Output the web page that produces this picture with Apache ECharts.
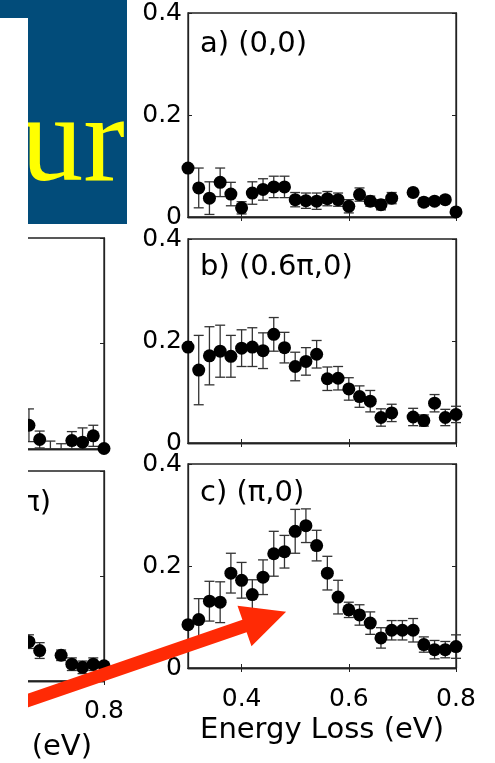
<!DOCTYPE html>
<html>
<head>
<meta charset="utf-8">
<script src="https://cdn.jsdelivr.net/npm/echarts@6/dist/echarts.min.js"></script>
<style>
  html, body { margin: 0; padding: 0; background: #ffffff; }
  #chart { width: 495px; height: 763px; }
</style>
</head>
<body>
<div id="chart"></div>
<script>
// Energy-loss grid (eV), shared by every panel
const energy = [0.30, 0.32, 0.34, 0.36, 0.38, 0.40, 0.42, 0.44, 0.46, 0.48,
                0.50, 0.52, 0.54, 0.56, 0.58, 0.60, 0.62, 0.64, 0.66, 0.68,
                0.70, 0.72, 0.74, 0.76, 0.78, 0.80];

// a) (0,0)
const intensityA = [0.096, 0.057, 0.037, 0.068, 0.045, 0.018, 0.047, 0.054, 0.059, 0.059,
                    0.034, 0.032, 0.031, 0.036, 0.034, 0.021, 0.044, 0.031, 0.024, 0.037,
                    null, 0.048, 0.029, 0.031, 0.034, 0.010];
const errorA = [0, 0.039, 0.032, 0.028, 0.023, 0.012, 0.022, 0.021, 0.021, 0.021,
                0.014, 0.015, 0.016, 0.014, 0.013, 0.013, 0.013, 0.010, 0.010, 0.011,
                null, 0.008, 0.008, 0.007, 0.007, 0];

// b) (0.6π,0)
const intensityB = [0.188, 0.143, 0.171, 0.180, 0.170, 0.186, 0.188, 0.181, 0.213, 0.187,
                    0.150, 0.160, 0.174, 0.126, 0.127, 0.106, 0.091, 0.082, 0.050, 0.059,
                    null, 0.051, 0.044, 0.078, 0.050, 0.056];
const errorB = [0, 0.068, 0.057, 0.051, 0.041, 0.036, 0.038, 0.035, 0.033, 0.030,
                0.028, 0.027, 0.027, 0.023, 0.023, 0.022, 0.021, 0.021, 0.017, 0.017,
                null, 0.017, 0.011, 0.017, 0.016, 0.016];

// c) (π,0)
const intensityC = [0.085, 0.095, 0.131, 0.129, 0.186, 0.172, 0.144, 0.178, 0.224, 0.228,
                    0.268, 0.279, 0.240, 0.186, 0.139, 0.114, 0.104, 0.088, 0.059, 0.074,
                    0.074, 0.074, 0.046, 0.036, 0.036, 0.042];
const errorC = [0, 0.041, 0.039, 0.040, 0.039, 0.035, 0.029, 0.034, 0.044, 0.032,
                0.043, 0.033, 0.030, 0.033, 0.033, 0.015, 0.020, 0.022, 0.020, 0.019,
                0.019, 0.023, 0.015, 0.018, 0.016, 0.023];

// left column panels (high-energy end)
const energyLeft = [0.66, 0.68, 0.70, 0.72, 0.74, 0.76, 0.78, 0.80];
const intensityL1 = [0.045, 0.018, -0.020, -0.020, 0.016, 0.013, 0.025, 0.001];
const errorL1 = [0.031, 0.016, 0.035, 0.030, 0.017, 0.027, 0.020, 0];
const intensityL2 = [0.075, 0.058, null, 0.049, 0.032, 0.026, 0.032, 0.029];
const errorL2 = [0.013, 0.015, null, 0.010, 0.012, 0.012, 0.012, 0];

const xTicks = [0.4, 0.6, 0.8];
const panelTitles = ['a) (0,0)', 'b) (0.6\u03c0,0)', 'c) (\u03c0,0)', 'e) (\u03c0,\u03c0)'];
const xAxisTitle = 'Energy Loss (eV)';

const FONT = 'DejaVu Sans';
const AXIS_COLOR = '#222222';

// panel boxes: [left, top, width, height]
const boxes = [
  [188, 13, 268, 204],   // a
  [188, 239, 268, 204],  // b
  [188, 464, 268, 204],  // c
  [-164, 238, 268, 211], // left middle
  [-164, 471, 268, 210]  // left bottom
];
// which panels carry x tick labels / y tick labels
const showX = [false, false, true, false, true];
const showY = [true, true, true, false, false];
const xLabelMargin = [19, 19, 19, 19, 18];
const nameGaps = [0, 0, 48, 0, 52];

const grids = [], xAxes = [], yAxes = [];
boxes.forEach((b, i) => {
  grids.push({
    left: b[0], top: b[1], width: b[2], height: b[3],
    show: true, borderColor: AXIS_COLOR, borderWidth: 1.3,
    backgroundColor: 'transparent',
    outerBoundsMode: 'none', containLabel: false
  });
  const base = {
    gridIndex: i, type: 'value', min: 0.3, max: 0.8,
    splitLine: { show: false },
    axisLine: { show: true, lineStyle: { color: AXIS_COLOR, width: 1.3 } },
    axisTick: { show: true, inside: true, length: 4, customValues: xTicks,
                lineStyle: { color: AXIS_COLOR, width: 1 } }
  };
  xAxes.push(Object.assign({}, base, {
    position: 'bottom',
    axisLabel: { show: showX[i], customValues: xTicks, margin: xLabelMargin[i],
                 color: '#000', fontFamily: FONT, fontSize: 25,
                 formatter: v => v.toFixed(1) },
    name: showX[i] ? xAxisTitle : '',
    nameLocation: 'middle', nameGap: nameGaps[i],
    nameTextStyle: { color: '#000', fontFamily: FONT, fontSize: 29 }
  }));
  xAxes.push(Object.assign({}, base, {
    position: 'top',
    axisLabel: { show: false }
  }));
  const ybase = {
    gridIndex: i, type: 'value', min: 0, max: 0.4, interval: 0.2,
    splitLine: { show: false },
    axisLine: { show: true, lineStyle: { color: AXIS_COLOR, width: 1.3 } },
    axisTick: { show: true, inside: true, length: 4,
                lineStyle: { color: AXIS_COLOR, width: 1 } }
  };
  yAxes.push(Object.assign({}, ybase, {
    position: 'left',
    axisLabel: { show: showY[i], margin: 6, color: '#000', fontFamily: FONT, fontSize: 25,
                 formatter: v => (v === 0 ? '0' : v.toFixed(1)) }
  }));
  yAxes.push(Object.assign({}, ybase, {
    position: 'right',
    axisLabel: { show: false }
  }));
});

// vertical error bar with caps; the lower end stops at the axis floor
function errorBar(params, api) {
  const x = api.value(0), y = api.value(1), e = api.value(2);
  if (!e) return null;
  const lowVal = y - e;
  const top = api.coord([x, y + e]);
  const bot = api.coord([x, Math.max(lowVal, 0)]);
  const hw = 5;
  const style = { stroke: '#333333', lineWidth: 1.3 };
  const children = [
    { type: 'line', shape: { x1: top[0], y1: top[1], x2: bot[0], y2: bot[1] }, style },
    { type: 'line', shape: { x1: top[0] - hw, y1: top[1], x2: top[0] + hw, y2: top[1] }, style }
  ];
  if (lowVal >= 0) {
    children.push({ type: 'line', shape: { x1: bot[0] - hw, y1: bot[1], x2: bot[0] + hw, y2: bot[1] }, style });
  }
  return { type: 'group', children };
}

const panels = [
  [energy, intensityA, errorA],
  [energy, intensityB, errorB],
  [energy, intensityC, errorC],
  [energyLeft, intensityL1, errorL1],
  [energyLeft, intensityL2, errorL2]
];

const series = [];
panels.forEach((p, i) => {
  const [xs, ys, es] = p;
  const barData = [], dotData = [];
  xs.forEach((x, k) => {
    if (ys[k] == null) return;
    barData.push([x, ys[k], es[k]]);
    if (ys[k] >= 0) dotData.push([x, ys[k]]);
  });
  series.push({
    type: 'custom', xAxisIndex: 2 * i, yAxisIndex: 2 * i,
    renderItem: errorBar, data: barData, z: 3, silent: true
  });
  series.push({
    type: 'scatter', xAxisIndex: 2 * i, yAxisIndex: 2 * i,
    data: dotData, symbol: 'circle', symbolSize: 13, clip: false,
    itemStyle: { color: '#000', opacity: 1 }, z: 4, silent: true
  });
});

const titleStyle = { color: '#000', fontFamily: FONT, fontSize: 29, fontWeight: 'normal' };
const titles = [
  { text: panelTitles[0], left: 200, top: 30, padding: 0, textStyle: titleStyle },
  { text: panelTitles[1], left: 200, top: 253, padding: 0, textStyle: titleStyle },
  { text: panelTitles[2], left: 200, top: 479, padding: 0, textStyle: titleStyle },
  { text: panelTitles[3], right: 444, top: 489, padding: 0, textStyle: titleStyle }
];

// red pointer arrow: tail off the left edge, head near the (π,0) peak
function arrowPoints() {
  const tail = [-10, 713.5], baseMid = [244.5, 626];
  const dx = baseMid[0] - tail[0], dy = baseMid[1] - tail[1];
  const len = Math.hypot(dx, dy);
  const ux = dx / len, uy = dy / len, nx = -uy, ny = ux;
  const sw = 6.5, hw = 21.5, hl = 44;
  const tip = [baseMid[0] + ux * hl, baseMid[1] + uy * hl];
  return [
    [tail[0] + nx * sw, tail[1] + ny * sw],
    [baseMid[0] + nx * sw, baseMid[1] + ny * sw],
    [baseMid[0] + nx * hw, baseMid[1] + ny * hw],
    tip,
    [baseMid[0] - nx * hw, baseMid[1] - ny * hw],
    [baseMid[0] - nx * sw, baseMid[1] - ny * sw],
    [tail[0] - nx * sw, tail[1] - ny * sw]
  ];
}

const graphic = [
  { type: 'polygon', z: 60, silent: true,
    shape: { points: [[0, 0], [127, 0], [127, 224], [28, 224], [28, 18], [0, 18]] },
    style: { fill: '#024c7a' } },
  { type: 'text', z: 61, silent: true, x: 125, y: 210,
    style: { text: 'ur', fill: '#ffff00', font: '125px "Liberation Serif"',
             align: 'right', verticalAlign: 'bottom' } },
  { type: 'polygon', z: 50, silent: true,
    shape: { points: arrowPoints() }, style: { fill: '#ff2a05' } },
  { type: 'rect', z: 100, silent: true,
    shape: { x: 0, y: 18, width: 28, height: 745 }, style: { fill: '#ffffff' } }
];

const chart = echarts.init(document.getElementById('chart'), null, { renderer: 'canvas' });
chart.setOption({
  backgroundColor: '#ffffff',
  animation: false,
  title: titles,
  grid: grids,
  xAxis: xAxes,
  yAxis: yAxes,
  series: series,
  graphic: graphic
});
</script>
</body>
</html>
